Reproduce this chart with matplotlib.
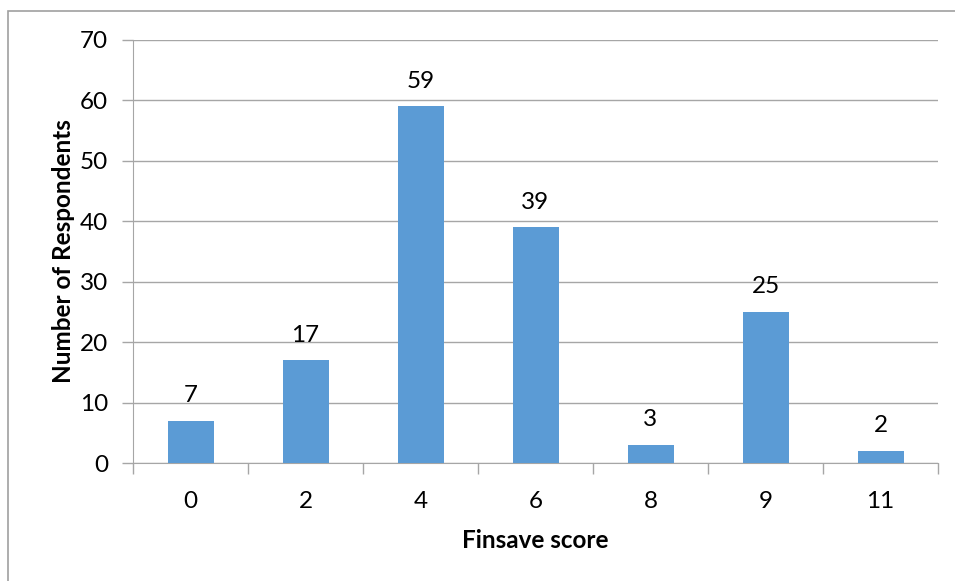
import matplotlib
matplotlib.use("Agg")
import matplotlib.pyplot as plt
from matplotlib.patches import Rectangle

categories = ["0", "2", "4", "6", "8", "9", "11"]
respondents = [7, 17, 59, 39, 3, 25, 2]
y_ticks = [0, 10, 20, 30, 40, 50, 60, 70]

plt.rcParams['font.family'] = ['Lato', 'DejaVu Sans']

W, H = 955, 581
FS = 17.5
fig = plt.figure(figsize=(W / 100, H / 100), dpi=100)
ax = fig.add_axes([133 / W, 1 - 463 / H, (938 - 133) / W, (463 - 40) / H])

grid_col = "#A6A6A6"
bar_col = "#5B9BD5"

x = list(range(len(categories)))
bars = ax.bar(x, respondents, width=0.4, color=bar_col, zorder=3)
for xi, v in zip(x, respondents):
    ax.text(xi, v + 2.4, str(v), ha="center", va="bottom", fontsize=FS, color="#000000")

ax.set_xlim(-0.5, len(categories) - 0.5)
ax.set_ylim(0, 70)
ax.set_yticks(y_ticks)
ax.set_yticklabels([str(t) for t in y_ticks], fontsize=FS)
ax.set_xticks(x)
ax.set_xticklabels(categories, fontsize=FS)
ax.tick_params(axis="x", length=0, pad=20)
ax.tick_params(axis="y", length=8, color=grid_col, pad=10, width=1)

# category boundary tick marks below the axis
ax.set_xticks([i - 0.5 for i in range(len(categories) + 1)], minor=True)
ax.tick_params(axis="x", which="minor", length=8, color=grid_col, width=1)

ax.yaxis.grid(True, color=grid_col, linewidth=1, zorder=0)
ax.set_axisbelow(True)
for side in ["top", "right"]:
    ax.spines[side].set_visible(False)
ax.spines["left"].set_color(grid_col)
ax.spines["bottom"].set_color(grid_col)

ax.set_ylabel("Number of Respondents", fontsize=FS, fontweight="bold", labelpad=3.5)
ax.set_xlabel("Finsave score", fontsize=FS, fontweight="bold", labelpad=12.5)

# outer chart frame
fig.patches.append(Rectangle((8 / W, -0.1), 1.2, 1.1 - 11 / H,
                             transform=fig.transFigure, fill=False,
                             edgecolor="#A0A0A0", linewidth=1.2))

fig.savefig("out.png", dpi=100)
